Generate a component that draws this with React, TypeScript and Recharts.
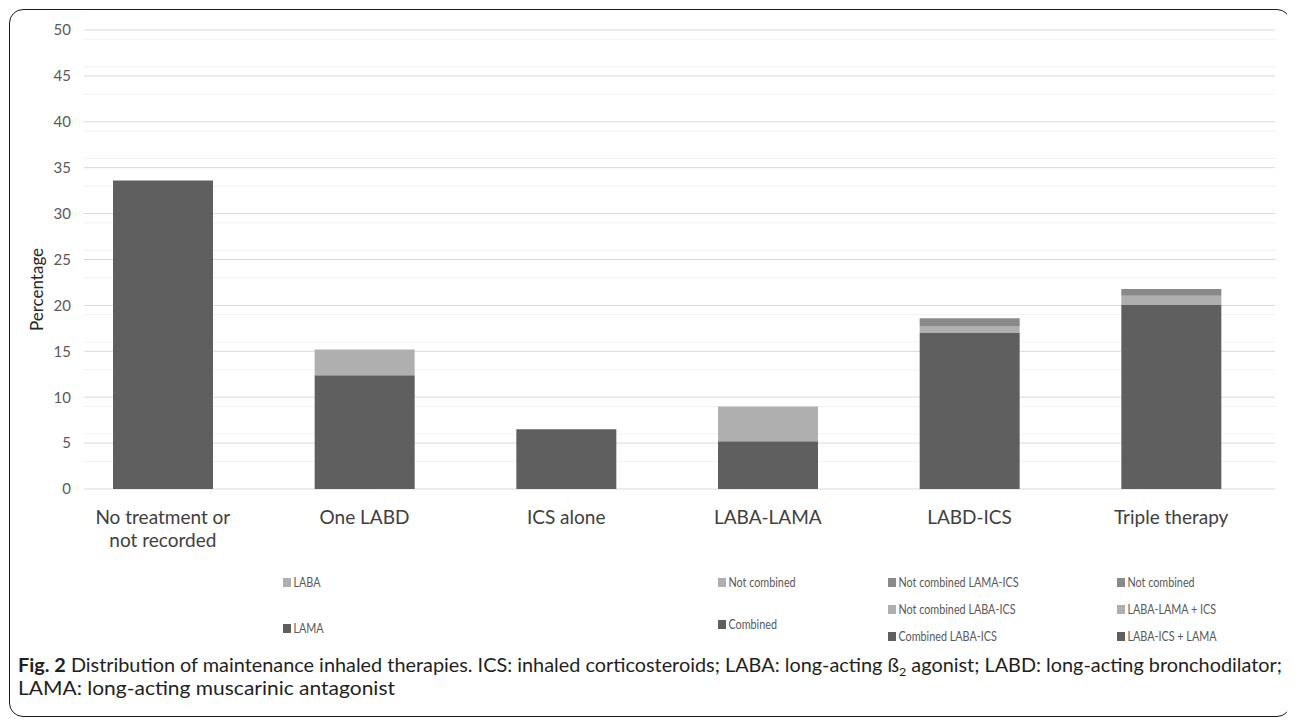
import React from 'react';
import { BarChart, Bar, XAxis, YAxis, CartesianGrid } from 'recharts';

// ---- data ----
const categories = [
  'No treatment or\nnot recorded',
  'One LABD',
  'ICS alone',
  'LABA-LAMA',
  'LABD-ICS',
  'Triple therapy',
];
// bottom segment (LAMA / Combined / Combined LABA-ICS / LABA-ICS + LAMA)
const baseValues = [33.6, 12.4, 6.5, 5.2, 17.0, 20.1];
// middle segment (LABA / Not combined / Not combined LABA-ICS / LABA-LAMA + ICS)
const midValues = [0, 2.8, 0, 3.8, 0.75, 0.95];
// top segment (Not combined LAMA-ICS / Not combined)
const topValues = [0, 0, 0, 0, 0.85, 0.75];

const majorTicks = [0, 5, 10, 15, 20, 25, 30, 35, 40, 45, 50];
const minorTicks = [
  1, 2, 3, 4, 6, 7, 8, 9, 11, 12, 13, 14, 16, 17, 18, 19, 21, 22, 23, 24,
  26, 27, 28, 29, 31, 32, 33, 34, 36, 37, 38, 39, 41, 42, 43, 44, 46, 47, 48, 49,
];

const legendLabelsA = ['LABA', 'LAMA'];
const legendLabelsB = ['Not combined', 'Combined'];
const legendLabelsC = ['Not combined LAMA-ICS', 'Not combined LABA-ICS', 'Combined LABA-ICS'];
const legendLabelsD = ['Not combined', 'LABA-LAMA + ICS', 'LABA-ICS + LAMA'];

const yAxisTitle = 'Percentage';
const captionBold = 'Fig. 2';
const captionLine1a = ' Distribution of maintenance inhaled therapies. ICS: inhaled corticosteroids; LABA: long-acting ß';
const captionSub = '2';
const captionLine1b = ' agonist; LABD: long-acting bronchodilator;';
const captionLine2 = 'LAMA: long-acting muscarinic antagonist';

// ---- styles ----
const DARK = '#5f5f5f';
const LIGHT = '#afafaf';
const MEDIUM = '#898989';
const FONT = 'Lato, "Open Sans", sans-serif';

const data = categories.map((c, i) => ({
  category: c,
  base: baseValues[i],
  mid: midValues[i],
  top: topValues[i],
}));

const CategoryTick = (props: any) => {
  const { x, y, payload } = props;
  const lines = String(payload.value).split('\n');
  return (
    <text x={x} y={y} textAnchor="middle" fill="#404040" fontSize={19} fontFamily={FONT}>
      {lines.map((l, i) => (
        <tspan key={i} x={x} dy={i === 0 ? 35 : 23}>
          {l}
        </tspan>
      ))}
    </text>
  );
};

const YTitle = (props: any) => {
  const vb = props.viewBox || { x: 10, y: 22, width: 66, height: 459 };
  const cx = vb.x + 18;
  const cy = vb.y + vb.height / 2 + 30;
  return (
    <text
      x={cx}
      y={cy}
      textAnchor="middle"
      dominantBaseline="central"
      transform={`rotate(-90, ${cx}, ${cy})`}
      fill="#262626"
      fontSize={17}
      fontFamily={FONT}
    >
      {yAxisTitle}
    </text>
  );
};

type LegendItem = { label: string; color: string; left: number; top: number };

const legendItems: LegendItem[] = [
  { label: legendLabelsA[0], color: LIGHT, left: 275, top: 574 },
  { label: legendLabelsA[1], color: DARK, left: 275, top: 620 },
  { label: legendLabelsB[0], color: LIGHT, left: 710, top: 574 },
  { label: legendLabelsB[1], color: DARK, left: 710, top: 616 },
  { label: legendLabelsC[0], color: MEDIUM, left: 880, top: 574 },
  { label: legendLabelsC[1], color: LIGHT, left: 880, top: 601 },
  { label: legendLabelsC[2], color: DARK, left: 880, top: 628 },
  { label: legendLabelsD[0], color: MEDIUM, left: 1109, top: 574 },
  { label: legendLabelsD[1], color: LIGHT, left: 1109, top: 601 },
  { label: legendLabelsD[2], color: DARK, left: 1109, top: 628 },
];

export default function App() {
  return (
    <div style={{ position: 'relative', width: 1279, height: 714, fontFamily: FONT }}>
      <div
        style={{
          position: 'absolute',
          left: 1,
          top: 1,
          width: 1282,
          height: 708,
          border: '1.5px solid #1a1a1a',
          borderRadius: 14,
          boxSizing: 'border-box',
        }}
      />
      <div style={{ position: 'absolute', left: 0, top: 0 }}>
        <BarChart
          width={1279}
          height={560}
          data={data}
          margin={{ top: 22, right: 12, bottom: 19, left: 10 }}
          barSize={100}
        >
          <CartesianGrid vertical={false} stroke="#f2f2f2" strokeWidth={1} horizontalValues={minorTicks} />
          <CartesianGrid vertical={false} stroke="#d9d9d9" strokeWidth={1} />
          <XAxis
            dataKey="category"
            type="category"
            interval={0}
            axisLine={false}
            tickLine={false}
            tickSize={0}
            tickMargin={0}
            height={60}
            padding={{ left: -22, right: 3 }}
            tick={<CategoryTick />}
          />
          <YAxis
            domain={[0, 50]}
            ticks={majorTicks}
            type="number"
            width={66}
            axisLine={false}
            tickLine={false}
            tickSize={0}
            tickMargin={13}
            tick={{ fill: '#595959', fontSize: 15, fontFamily: FONT }}
            label={<YTitle />}
          />
          <Bar dataKey="base" stackId="s" fill={DARK} isAnimationActive={false} />
          <Bar dataKey="mid" stackId="s" fill={LIGHT} isAnimationActive={false} />
          <Bar dataKey="top" stackId="s" fill={MEDIUM} isAnimationActive={false} />
        </BarChart>
      </div>
      {legendItems.map((it, i) => (
        <div
          key={i}
          style={{
            position: 'absolute',
            left: it.left,
            top: it.top,
            transform: 'translateY(-50%) scaleX(0.8)',
            transformOrigin: 'left center',
            display: 'flex',
            alignItems: 'center',
            fontSize: 13.5,
            color: '#595959',
            whiteSpace: 'nowrap',
            lineHeight: '16px',
          }}
        >
          <span style={{ display: 'inline-block', width: 10, height: 9, background: it.color, marginRight: 3 }} />
          <span>{it.label}</span>
        </div>
      ))}
      <svg
        width={1279}
        height={74}
        style={{ position: 'absolute', left: 0, top: 640 }}
      >
        <text x={10} y={24} fontSize={19} fontFamily={FONT} fill="#231f20" textLength={1264} lengthAdjust="spacingAndGlyphs">
          <tspan fontWeight="bold">{captionBold}</tspan>
          <tspan>{captionLine1a}</tspan>
          <tspan fontSize={12} dy={4}>{captionSub}</tspan>
          <tspan dy={-4}>{captionLine1b}</tspan>
        </text>
        <text x={10} y={47} fontSize={19} fontFamily={FONT} fill="#231f20" textLength={377} lengthAdjust="spacingAndGlyphs">
          {captionLine2}
        </text>
      </svg>
    </div>
  );
}
